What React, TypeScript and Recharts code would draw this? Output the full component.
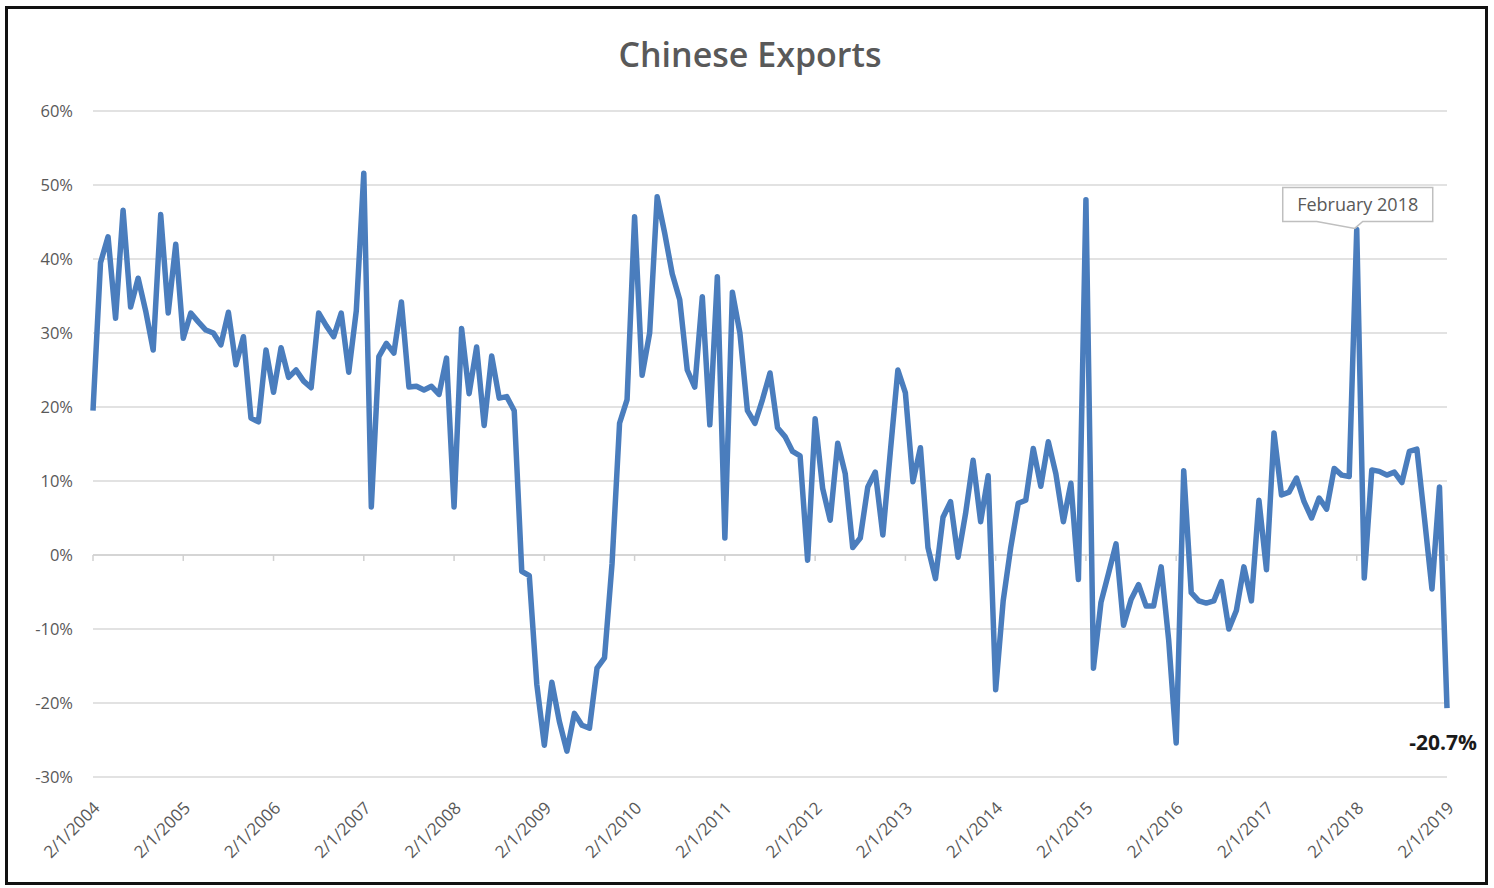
import React from "react";
import { LineChart, Line, XAxis, YAxis, CartesianGrid, ReferenceLine, ReferenceDot } from "recharts";

// year-over-year export growth, % (2004 starts in February, 2019 ends in February)
const exports2004 = [19.5, 39.5, 43, 32, 46.6, 33.5, 37.4, 33, 27.7, 46, 32.7];
const exports2005 = [42, 29.3, 32.7, 31.5, 30.4, 30, 28.4, 32.8, 25.7, 29.5, 18.5, 18];
const exports2006 = [27.7, 22, 28, 24, 25, 23.5, 22.6, 32.7, 31, 29.5, 32.7, 24.7];
const exports2007 = [33, 51.6, 6.5, 26.8, 28.6, 27.3, 34.2, 22.7, 22.8, 22.3, 22.8, 21.7];
const exports2008 = [26.6, 6.5, 30.6, 21.8, 28.1, 17.5, 26.9, 21.2, 21.4, 19.5, -2.2, -2.8];
const exports2009 = [-17.5, -25.7, -17.2, -22.5, -26.5, -21.4, -23, -23.4, -15.3, -13.9, -1.2, 17.8];
const exports2010 = [21, 45.7, 24.3, 30, 48.4, 43.5, 38, 34.5, 25, 22.7, 34.9, 17.6];
const exports2011 = [37.6, 2.3, 35.5, 30, 19.5, 17.8, 21, 24.6, 17.2, 16, 14, 13.4];
const exports2012 = [-0.7, 18.4, 9, 4.7, 15.1, 11, 1, 2.3, 9.2, 11.2, 2.7, 14];
const exports2013 = [25, 21.9, 9.9, 14.5, 1, -3.2, 5.1, 7.2, -0.3, 5.6, 12.8, 4.5];
const exports2014 = [10.7, -18.2, -6.2, 1, 7, 7.4, 14.4, 9.3, 15.3, 11, 4.5, 9.7];
const exports2015 = [-3.3, 48, -15.3, -6.4, -2.5, 1.5, -9.5, -6, -4, -6.9, -6.9, -1.6];
const exports2016 = [-11.5, -25.4, 11.4, -5.1, -6.2, -6.5, -6.2, -3.6, -10, -7.5, -1.6, -6.2];
const exports2017 = [7.4, -2, 16.5, 8.1, 8.5, 10.4, 7.2, 5, 7.7, 6.2, 11.7, 10.8];
const exports2018 = [10.6, 44, -3.1, 11.5, 11.3, 10.8, 11.2, 9.8, 14, 14.3, 5, -4.6];
const exports2019 = [9.2, -20.7];

const years = [2004, 2005, 2006, 2007, 2008, 2009, 2010, 2011, 2012, 2013, 2014, 2015, 2016, 2017, 2018, 2019];
const series = [exports2004, exports2005, exports2006, exports2007, exports2008, exports2009, exports2010, exports2011,
  exports2012, exports2013, exports2014, exports2015, exports2016, exports2017, exports2018, exports2019];

const xTicks = ["2/1/2004", "2/1/2005", "2/1/2006", "2/1/2007", "2/1/2008", "2/1/2009", "2/1/2010", "2/1/2011",
  "2/1/2012", "2/1/2013", "2/1/2014", "2/1/2015", "2/1/2016", "2/1/2017", "2/1/2018", "2/1/2019"];
const yTicks = [-30, -20, -10, 0, 10, 20, 30, 40, 50, 60];

const annotated = { date: "2/1/2018", value: 44, text: "February 2018" };
const lastLabel = { date: "2/1/2019", value: -20.7, text: "-20.7%" };

const data: { date: string; value: number }[] = [];
years.forEach((yr, k) => {
  const firstMonth = yr === 2004 ? 2 : 1;
  series[k].forEach((v, j) => data.push({ date: `${firstMonth + j}/1/${yr}`, value: v }));
});

const FONT = "'Open Sans', sans-serif";
const GRAY = "#595959";

const XTick = ({ x, y, payload }: any) => (
  <g transform={`translate(${x + 8},${y + 32})`}>
    <text textAnchor="end" transform="rotate(-45)" fill={GRAY} fontSize={17} fontFamily={FONT}>
      {payload.value}
    </text>
  </g>
);

const Callout = ({ cx, cy }: any) => {
  const l = cx - 74, r = cx + 76, t = cy - 42, b = cy - 8;
  return (
    <g>
      <path
        d={`M${l},${t} H${r} V${b} H${cx + 6} L${cx - 2},${cy - 1} L${cx - 40},${b} H${l} Z`}
        fill="#fff"
        stroke="#bfbfbf"
        strokeWidth={1.5}
      />
      <text x={(l + r) / 2} y={t + 24} textAnchor="middle" fill={GRAY} fontSize={18} fontFamily={FONT}>
        {annotated.text}
      </text>
    </g>
  );
};

const EndLabel = ({ cx, cy }: any) => (
  <text x={cx - 4} y={cy + 42} textAnchor="middle" fill="#1a1a1a" fontSize={21} fontWeight={700} fontFamily={FONT}>
    {lastLabel.text}
  </text>
);

export default function App() {
  return (
    <div style={{ position: "absolute", left: 0, top: 0, width: 1494, height: 888, background: "#fff" }}>
      <div
        style={{
          position: "absolute", left: 5, top: 6, width: 1477, height: 873,
          border: "3px solid #111", boxSizing: "content-box",
        }}
      />
      <div
        style={{
          position: "absolute", left: 0, top: 31, width: 1500, textAlign: "center",
          fontFamily: FONT, fontWeight: 600, fontSize: 34, color: GRAY,
        }}
      >
        Chinese Exports
      </div>
      <div style={{ position: "absolute", left: 0, top: 0 }}>
        <LineChart width={1494} height={888} data={data} margin={{ top: 111, right: 47, left: 0, bottom: 0 }}>
          <CartesianGrid horizontal vertical={false} stroke="#d9d9d9" strokeWidth={1.5} />
          <XAxis
            dataKey="date"
            ticks={xTicks}
            interval={0}
            height={111}
            axisLine={false}
            tickLine={false}
            tickSize={0}
            tickMargin={0}
            tick={<XTick />}
          />
          <YAxis
            domain={[-30, 60]}
            ticks={yTicks}
            width={93}
            axisLine={false}
            tickLine={false}
            tickSize={0}
            tickMargin={20}
            tickFormatter={(v: number) => `${v}%`}
            tick={{ fill: GRAY, fontSize: 16.5, fontFamily: FONT }}
          />
          <ReferenceLine y={0} stroke="#d0d0d0" strokeWidth={1.5} />
          {xTicks.map((t) => (
            <ReferenceLine key={t} segment={[{ x: t, y: 0 }, { x: t, y: -0.8 }]} stroke="#d0d0d0" strokeWidth={1.5} />
          ))}
          <Line
            type="linear"
            dataKey="value"
            stroke="#4a7dbd"
            strokeWidth={5.5}
            strokeLinejoin="round"
            dot={false}
            isAnimationActive={false}
          />
          <ReferenceDot x={annotated.date} y={annotated.value} r={0} shape={<Callout />} />
          <ReferenceDot x={lastLabel.date} y={lastLabel.value} r={0} shape={<EndLabel />} />
        </LineChart>
      </div>
    </div>
  );
}
